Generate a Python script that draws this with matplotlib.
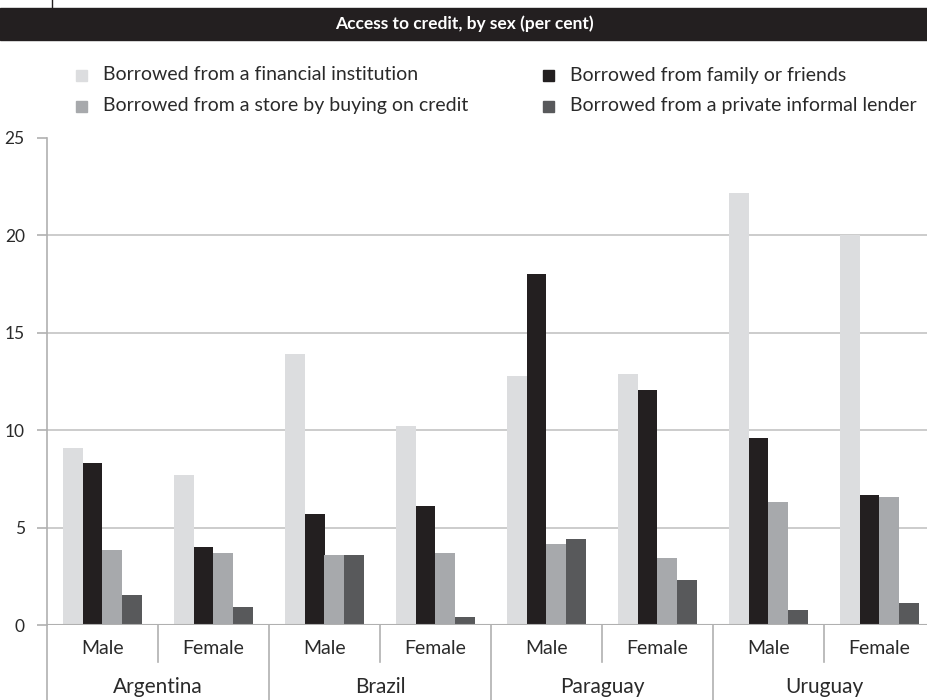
import matplotlib
matplotlib.use("Agg")
import matplotlib.pyplot as plt
from matplotlib.patches import Rectangle
import numpy as np

plt.rcParams['font.family'] = ['Lato', 'DejaVu Sans']

countries = ["Argentina", "Brazil", "Paraguay", "Uruguay"]
sexes = ["Male", "Female"]
series_names = [
    "Borrowed from a financial institution",
    "Borrowed from family or friends",
    "Borrowed from a store by buying on credit",
    "Borrowed from a private informal lender",
]
financial = [9.1, 7.7, 13.9, 10.2, 12.8, 12.9, 22.2, 20.0]
family = [8.3, 4.0, 5.7, 6.1, 18.0, 12.05, 9.6, 6.65]
store = [3.85, 3.7, 3.6, 3.7, 4.15, 3.45, 6.3, 6.55]
informal = [1.55, 0.9, 3.6, 0.4, 4.4, 2.3, 0.75, 1.15]
colors = ["#dcdddf", "#231f20", "#a7a9ac", "#58595b"]
yticks = [0, 5, 10, 15, 20, 25]

W, H = 928, 700
fig = plt.figure(figsize=(W / 100, H / 100), dpi=100)
left_px, right_px, bot_px, top_px = 47, 935, 625, 138
ax = fig.add_axes([left_px / W, (H - bot_px) / H, (right_px - left_px) / W, (bot_px - top_px) / H])

data = [financial, family, store, informal]
n = len(financial)
x = np.arange(n) + 0.5
bw = 0.18
for i, (vals, c) in enumerate(zip(data, colors)):
    ax.bar(x + (i - 1.5) * bw, vals, width=bw, color=c, zorder=3, linewidth=0)

ax.set_xlim(0, n)
ax.set_ylim(0, 25)
ax.set_yticks(yticks)
ax.set_yticklabels([str(v) for v in yticks], fontsize=12.5, color="#2a2a2a")
for v in yticks[1:-1]:
    ax.axhline(v, color="#c4c4c4", lw=1.2, zorder=1)
ax.axhline(0, color="#b0b0b0", lw=1.5, zorder=4)

for s in ["top", "right", "bottom"]:
    ax.spines[s].set_visible(False)
ax.spines["left"].set_color("#b0b0b0")
ax.spines["left"].set_linewidth(1.2)
ax.tick_params(axis="y", length=7, width=1.2, color="#b0b0b0", pad=9)
ax.tick_params(axis="x", length=0)
ax.set_xticks([])

trans = ax.get_xaxis_transform()
ah = bot_px - top_px
def ay(px):
    return -(px - bot_px) / ah

ax.plot([0, 0], [0, ay(700)], transform=trans, color="#b0b0b0", lw=1.2, clip_on=False)
for k in range(1, n):
    yb = ay(700) if k % 2 == 0 else ay(662)
    ax.plot([k, k], [0, yb], transform=trans, color="#b0b0b0", lw=1.2, clip_on=False)

for k in range(n):
    ax.text(k + 0.5, ay(648), sexes[k % 2], transform=trans, ha="center", va="center",
            fontsize=14, color="#2a2a2a")
for j, c in enumerate(countries):
    ax.text(2 * j + 1, ay(687), c, transform=trans, ha="center", va="center",
            fontsize=15, color="#2a2a2a")

# title bar
fig.patches.append(Rectangle((0, (H - 40) / H), 1, 32 / H, transform=fig.transFigure,
                             color="#231f20", zorder=0))
fig.text(0.5, (H - 24) / H, "Access to credit, by sex (per cent)", ha="center", va="center",
         color="white", fontsize=12.5, fontweight="bold")
fig.add_artist(plt.Line2D([52 / W, 52 / W], [(H - 8) / H, 1], transform=fig.transFigure,
                          color="#231f20", lw=1))

# legend
pos = {0: (76, 75), 2: (76, 106), 1: (543, 75), 3: (543, 106)}
for i in range(4):
    mx, my = pos[i]
    fig.patches.append(Rectangle((mx / W, (H - my - 5.5) / H), 11 / W, 11 / H,
                                 transform=fig.transFigure, color=colors[i]))
    fig.text((mx + 27) / W, (H - my) / H, series_names[i], ha="left", va="center",
             fontsize=14, color="#2a2a2a")

fig.savefig("out.png", dpi=100)
